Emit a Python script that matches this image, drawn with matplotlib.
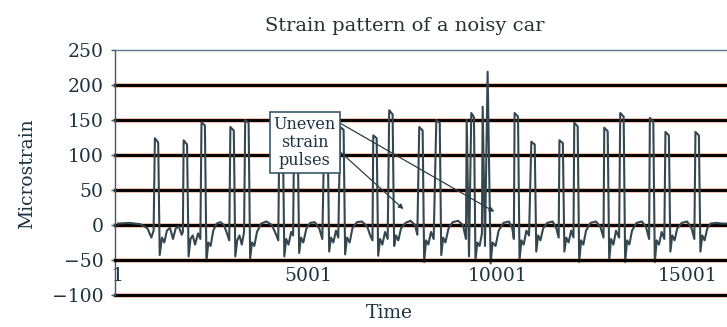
import numpy as np
import matplotlib
matplotlib.use("Agg")
import matplotlib.pyplot as plt

# strain trace (time, microstrain), one row per pulse
time = [
    1, 300, 600, 780, 880, 940,
    973, 1060, 1100, 1160, 1220, 1290, 1370, 1450, 1520, 1600, 1680, 1710,
    1730, 1820, 1860, 1910, 1970, 2030, 2110, 2170,
    2200, 2290, 2330, 2380, 2440, 2510, 2600, 2700, 2790, 2870, 2930,
    2960, 3050, 3090, 3140, 3200, 3260, 3320,
    3350, 3440, 3480, 3530, 3590, 3660, 3770, 3910, 4050, 4150, 4220,
    4250, 4340, 4380, 4430, 4490, 4560, 4610,
    4640, 4730, 4770, 4820, 4880, 4960, 5060, 5180, 5300, 5380,
    5430, 5520, 5560, 5610, 5670, 5740, 5800,
    5850, 5940, 5980, 6030, 6100, 6170, 6290, 6420, 6560, 6640, 6700,
    6720, 6810, 6850, 6900, 6960, 7030, 7100,
    7140, 7230, 7270, 7320, 7380, 7450, 7570, 7700, 7820, 7880,
    7930, 8020, 8060, 8110, 8170, 8240, 8310,
    8380, 8470, 8510, 8560, 8620, 8700, 8810, 8950, 9080, 9160,
    9180, 9240, 9300, 9370, 9410, 9460, 9520, 9580,
    9600, 9660, 9730, 9810, 9860, 9940, 10020, 10150, 10290, 10380, 10420,
    10440, 10530, 10570, 10620, 10680, 10750, 10820,
    10880, 10970, 11010, 11060, 11120, 11190, 11300, 11440, 11540, 11600,
    11620, 11710, 11750, 11800, 11860, 11930, 11990,
    12010, 12100, 12140, 12190, 12250, 12320, 12440, 12580, 12700, 12780,
    12800, 12890, 12930, 12980, 13040, 13110, 13190,
    13220, 13310, 13350, 13400, 13460, 13530, 13650, 13790, 13900, 13980,
    14000, 14090, 14130, 14180, 14240, 14310, 14380,
    14410, 14500, 14540, 14590, 14650, 14720, 14840, 14980, 15100, 15170,
    15200, 15290, 15330, 15380, 15440, 15510, 15600, 15750, 15900, 16050,
]
strain = [
    2, 3, 1, -5, -18, -8,
    124, 118, -43, -18, -25, -8, -4, -20, -5, -2, -14, -10,
    121, 115, -45, -20, -15, -28, -12, -20,
    147, 142, -52, -25, -30, -8, 2, 4, 0, -12, -22,
    140, 135, -45, -22, -15, -28, -10,
    150, 146, -48, -25, -30, -10, 2, 5, 0, -12, -22,
    135, 130, -45, -20, -28, -10, -15,
    140, 136, -40, -18, -25, -5, 3, 4, -5, -20,
    130, 126, -38, -18, -25, -8, -18,
    140, 136, -42, -18, -25, -5, 4, 5, -2, -15, -22,
    128, 124, -44, -20, -28, -10, -20,
    164, 158, -30, -15, -22, -5, 3, 6, 0, -14,
    140, 135, -53, -22, -28, -10, -20,
    150, 146, -43, -18, -25, -5, 4, 6, 0, -20,
    150, -45, 160, 154, -50, -25, -30, -12,
    169, -30, 219, -55, -25, -30, -8, 3, 5, -5, -20,
    160, 155, -50, -22, -28, -8, -15,
    119, 115, -38, -15, -22, -5, 3, 5, -5, -18,
    121, 117, -38, -18, -25, -8, -18,
    146, 141, -53, -22, -28, -8, 3, 5, -3, -18,
    139, 134, -50, -20, -28, -8, -18,
    160, 155, -53, -22, -28, -8, 3, 5, -3, -20,
    153, 148, -53, -22, -28, -10, -20,
    133, 128, -38, -15, -22, -5, 3, 5, -5, -20,
    133, 128, -38, -15, -22, -5, 2, 3, 2, 2,
]

y_ticks = [-100, -50, 0, 50, 100, 150, 200, 250]
x_ticks = [1, 5001, 10001, 15001]

text_color = "#1d3340"
plt.rcParams["font.family"] = ["DejaVu Serif"]

fig = plt.figure(figsize=(7.27, 3.27), dpi=100)
ax = fig.add_axes([0.158, 0.098, 0.842, 0.749])

for v in y_ticks[:-1]:
    ax.axhline(v, color="#f2b9a0", lw=3.4, zorder=1, clip_on=False)
    ax.axhline(v, color="black", lw=2.1, zorder=1.5, clip_on=False)

ax.plot(time, strain, color="#34474f", lw=1.5, zorder=2)

ax.set_xlim(-80, 16030)
ax.set_ylim(-100, 250)
ax.set_yticks(y_ticks)
ax.set_xticks(x_ticks)
ax.tick_params(axis="y", length=3, width=1, color="#3a5a6a", pad=5,
               labelsize=13.5, labelcolor=text_color)
ax.tick_params(axis="x", length=0, pad=5, labelsize=13.5, labelcolor=text_color)

ax.spines["right"].set_visible(False)
ax.spines["bottom"].set_position(("data", -50))
ax.spines["bottom"].set_color("black")
ax.spines["bottom"].set_linewidth(2.1)
ax.spines["left"].set_color("#3a5a6a")
ax.spines["left"].set_linewidth(1.0)
ax.spines["top"].set_color("#5a7a8a")
ax.spines["top"].set_linewidth(1.0)

fig.text(0.557, 0.922, "Strain pattern of a noisy car", ha="center", va="center",
         fontsize=14, color="#2a2f33")
fig.text(0.037, 0.47, "Microstrain", ha="center", va="center", rotation=90,
         fontsize=13.5, color=text_color)
fig.text(0.536, 0.043, "Time", ha="center", va="center", fontsize=13.5,
         color=text_color)

ax.text(4918, 118, "Uneven\nstrain\npulses", ha="center", va="center",
        fontsize=11.5, linespacing=1.1, color=text_color, zorder=5,
        bbox=dict(boxstyle="square,pad=0.25", fc="white", ec="#3a5a6a", lw=1.2))

arrow_style = dict(arrowstyle="-|>", color="#2b3f4a", lw=0.9, mutation_scale=7)
ax.annotate("", xy=(9970, 17), xytext=(5800, 147), arrowprops=arrow_style, zorder=4)
ax.annotate("", xy=(7570, 20), xytext=(5800, 107), arrowprops=arrow_style, zorder=4)

fig.savefig("out.png", dpi=100)
